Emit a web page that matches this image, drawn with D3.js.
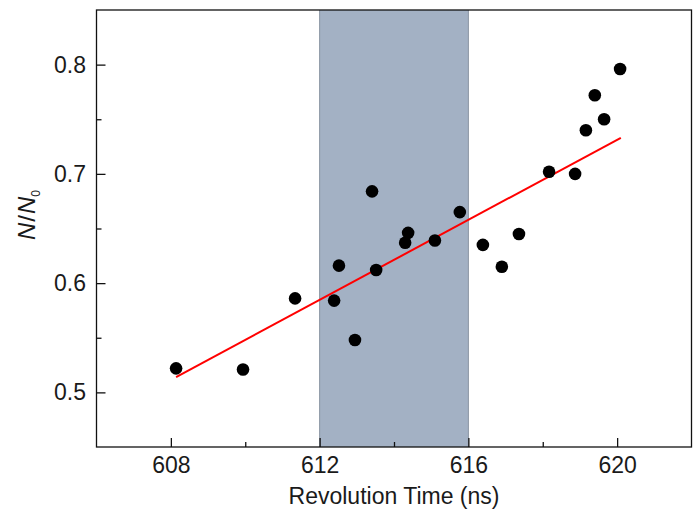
<!DOCTYPE html>
<html>
<head>
<meta charset="utf-8">
<script src="https://cdn.jsdelivr.net/npm/d3@7"></script>
<style>
    body { margin: 0; background: #fff; }
    svg { display: block; }
    text { font-family: "Liberation Sans", Arial, sans-serif; fill: #1a1a1a; }
</style>
</head>
<body>
<div id="chart"></div>
<script>
// measured points (revolution time in ns, N/N0)
const revTime = [608.14, 609.94, 611.34, 612.39, 612.52, 612.95, 613.41, 613.52, 614.30, 614.38, 615.10,
    615.77, 616.39, 616.90, 617.36, 618.17, 618.87, 619.16, 619.40, 619.65, 620.08];
const ratio = [0.522, 0.521, 0.586, 0.584, 0.616, 0.548, 0.684, 0.612, 0.637, 0.646, 0.639,
    0.665, 0.635, 0.615, 0.645, 0.702, 0.700, 0.740, 0.772, 0.750, 0.796];

// linear fit end points
const fitX = [608.14, 620.1];
const fitY = [0.514, 0.733];

// shaded window
const band = [612, 616];

const xTicks = [608, 612, 616, 620];
const xMinor = [610, 614, 618];
const yTicks = [0.5, 0.6, 0.7, 0.8];
const yMinor = [0.55, 0.65, 0.75];

let margin = {top: 10, right: 3.5, bottom: 64, left: 96.5};
let width = 695 - margin.left - margin.right;
let height = 511 - margin.top - margin.bottom;

let svg = d3.select("#chart").append("svg")
    .attr("width", 695)
    .attr("height", 511);

let g = svg.append("g")
    .attr("transform", "translate(" + margin.left + "," + margin.top + ")");

let x = d3.scaleLinear().domain([606, 622]).range([0, width]);
let y = d3.scaleLinear().domain([0.45, 0.85]).range([height, 0]);

// shaded region
g.append("rect")
    .attr("x", x(band[0]))
    .attr("y", 0)
    .attr("width", x(band[1]) - x(band[0]))
    .attr("height", height)
    .attr("fill", "#a3b1c4");
band.forEach(b => {
    g.append("line")
        .attr("x1", x(b)).attr("x2", x(b))
        .attr("y1", 0).attr("y2", height)
        .attr("stroke", "#8a94a2")
        .attr("stroke-width", 1);
});

// fit line
g.append("line")
    .attr("x1", x(fitX[0])).attr("y1", y(fitY[0]))
    .attr("x2", x(fitX[1])).attr("y2", y(fitY[1]))
    .attr("stroke", "#ff0000")
    .attr("stroke-width", 2);

// points
g.selectAll(".dot")
    .data(revTime.map((t, i) => [t, ratio[i]]))
    .enter()
    .append("circle")
    .attr("class", "dot")
    .attr("cx", d => x(d[0]))
    .attr("cy", d => y(d[1]))
    .attr("r", 6.3)
    .attr("fill", "#000");

// frame
g.append("rect")
    .attr("width", width)
    .attr("height", height)
    .attr("fill", "none")
    .attr("stroke", "#111")
    .attr("stroke-width", 1.3);

// axes (ticks pointing inwards)
let xAxis = g.append("g")
    .attr("transform", "translate(0," + height + ")")
    .call(d3.axisBottom(x).tickValues(xTicks).tickSizeInner(-9).tickSizeOuter(0).tickPadding(10).tickFormat(d3.format("d")));
let xAxisMinor = g.append("g")
    .attr("transform", "translate(0," + height + ")")
    .call(d3.axisBottom(x).tickValues(xMinor).tickSizeInner(-5).tickSizeOuter(0).tickFormat(""));

let yAxis = g.append("g")
    .call(d3.axisLeft(y).tickValues(yTicks).tickSizeInner(-9).tickSizeOuter(0).tickPadding(10.5).tickFormat(d3.format(".1f")));
let yAxisMinor = g.append("g")
    .call(d3.axisLeft(y).tickValues(yMinor).tickSizeInner(-5).tickSizeOuter(0).tickFormat(""));

[xAxis, xAxisMinor, yAxis, yAxisMinor].forEach(a => {
    a.select(".domain").remove();
    a.selectAll("line").attr("stroke", "#111").attr("stroke-width", 1.3);
    a.selectAll("text").attr("font-size", "23px").attr("fill", "#1a1a1a")
        .style("font-family", "'Liberation Sans', Arial, sans-serif");
});

// axis titles
svg.append("text")
    .attr("x", margin.left + width / 2)
    .attr("y", 504)
    .attr("text-anchor", "middle")
    .attr("font-size", "23px")
    .text("Revolution Time (ns)");

let yLabel = svg.append("text")
    .attr("transform", "translate(35," + 215 + ") rotate(-90)")
    .attr("text-anchor", "middle")
    .attr("font-size", "24px");
yLabel.append("tspan").attr("font-style", "italic").text("N");
yLabel.append("tspan").attr("dx", 1).text("/");
yLabel.append("tspan").attr("dx", 1).attr("font-style", "italic").text("N");
yLabel.append("tspan").attr("font-size", "12px").attr("dy", 5).text("0");
</script>
</body>
</html>
